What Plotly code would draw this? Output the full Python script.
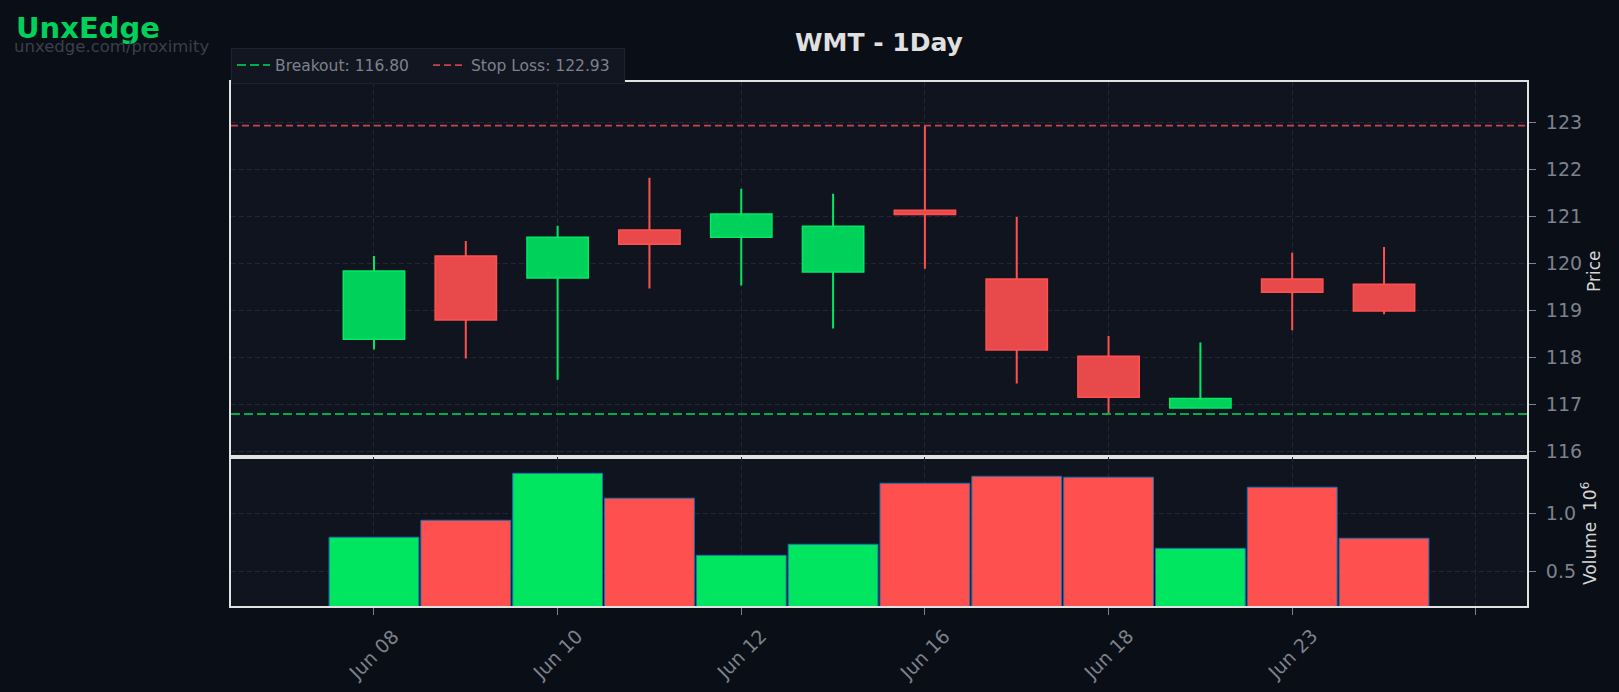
import plotly.graph_objects as go

# ---------------- data ----------------
dates = ["Jun 08", "Jun 09", "Jun 10", "Jun 11", "Jun 12", "Jun 13",
         "Jun 16", "Jun 17", "Jun 18", "Jun 20", "Jun 23", "Jun 24"]
opens = [118.39, 120.16, 119.69, 120.71, 120.56, 119.82, 121.13, 119.67, 118.03, 116.93, 119.67, 119.56]
highs = [120.16, 120.48, 120.80, 121.82, 121.59, 121.48, 122.92, 120.99, 118.46, 118.32, 120.23, 120.35]
lows = [118.17, 117.98, 117.53, 119.47, 119.53, 118.62, 119.89, 117.45, 116.80, 116.93, 118.58, 118.92]
closes = [119.84, 118.80, 120.56, 120.41, 121.05, 120.79, 121.04, 118.16, 117.16, 117.13, 119.39, 118.99]
volumes = [797000, 943000, 1348000, 1133000, 641000, 736000, 1262000, 1322000, 1314000, 701000, 1228000, 788000]

tick_positions = [0, 2, 4, 6, 8, 10, 12]
tick_labels = ["Jun 08", "Jun 10", "Jun 12", "Jun 16", "Jun 18", "Jun 23", ""]
price_ticks = [116, 117, 118, 119, 120, 121, 122, 123]
volume_ticks = [500000, 1000000]
volume_tick_labels = ["0.5", "1.0"]

breakout = 116.80
stop_loss = 122.93
symbol = "WMT"
timeframe = "1Day"

# ---------------- styling ----------------
W, H = 1619, 692
BG = "#0a0e17"
PLOT_BG = "#10141f"
GRID = "#222736"
FRAME = "#e2e2e2"
TICK_COL = "#7d828c"
GREEN_BODY = "#00d15a"
GREEN_EDGE = "#00e864"
RED_BODY = "#e84a4c"
RED_EDGE = "#ff5050"
VOL_GREEN = "#00e660"
VOL_RED = "#ff5050"
FONT = "DejaVu Sans"

x_pos = list(range(len(dates)))
x_range = [-1.557, len(dates) + 0.557]

up = [c >= o for o, c in zip(opens, closes)]
body_base = [min(o, c) for o, c in zip(opens, closes)]
body_top = [max(o, c) for o, c in zip(opens, closes)]
body_h = [t - b for t, b in zip(body_top, body_base)]

fig = go.Figure()

# wicks (split above / below body so they don't cross the body)
for is_up, col in [(True, GREEN_EDGE), (False, RED_EDGE)]:
    wx, wy = [], []
    for i in x_pos:
        if up[i] != is_up:
            continue
        wx += [i, i, None, i, i, None]
        wy += [highs[i], body_top[i], None, body_base[i], lows[i], None]
    fig.add_trace(go.Scatter(x=wx, y=wy, mode="lines", line=dict(color=col, width=2),
                             showlegend=False, hoverinfo="skip", xaxis="x", yaxis="y"))

# bodies
for is_up, fill, edge in [(True, GREEN_BODY, GREEN_EDGE), (False, RED_BODY, RED_EDGE)]:
    idx = [i for i in x_pos if up[i] == is_up]
    fig.add_trace(go.Bar(x=idx, y=[body_h[i] for i in idx], base=[body_base[i] for i in idx],
                         width=0.668, marker=dict(color=fill, line=dict(color=edge, width=1.5)),
                         showlegend=False, xaxis="x", yaxis="y"))

# level lines
fig.add_trace(go.Scatter(x=x_range, y=[breakout, breakout], mode="lines",
                         line=dict(color="#00ad4b", width=2, dash="9px,4px"),
                         name=f"Breakout: {breakout:.2f}", xaxis="x", yaxis="y"))
fig.add_trace(go.Scatter(x=x_range, y=[stop_loss, stop_loss], mode="lines",
                         line=dict(color="#cc424a", width=1.6, dash="7px,4px"),
                         name=f"Stop Loss: {stop_loss:.2f}", xaxis="x", yaxis="y"))

# volume
fig.add_trace(go.Bar(x=x_pos, y=volumes, width=0.978,
                     marker=dict(color=[VOL_GREEN if u else VOL_RED for u in up],
                                 line=dict(color="#1f6fb0", width=1)),
                     showlegend=False, xaxis="x2", yaxis="y2"))

x_dom = [231 / W, 1527 / W]
common_x = dict(range=x_range, domain=x_dom, tickmode="array", tickvals=tick_positions,
                showgrid=True, gridcolor=GRID, griddash="5px,3px", gridwidth=1, automargin=False,
                zeroline=False, showline=True, mirror=True, linecolor=FRAME, linewidth=2)
common_y = dict(side="right", tickmode="array", ticks="outside", ticklen=7, tickcolor=TICK_COL,
                tickfont=dict(size=19, color=TICK_COL), showgrid=True, gridcolor=GRID,
                griddash="5px,3px", zeroline=False, showline=True, mirror=True, linecolor=FRAME,
                linewidth=2, ticklabelstandoff=6, automargin=False)

annotations = [
    dict(text=f"<b>{symbol} - {timeframe}</b>", x=(x_dom[0] + x_dom[1]) / 2, y=1 - 42 / H,
         xref="paper", yref="paper", xanchor="center", yanchor="middle", showarrow=False,
         font=dict(size=25, color="#e0e0e0", family=FONT)),
    dict(text="<b>UnxEdge</b>", x=14 / W, y=1 - 9 / H, xref="paper", yref="paper",
         xanchor="left", yanchor="top", showarrow=False,
         font=dict(size=29, color="#00d15a", family=FONT)),
    dict(text="unxedge.com/proximity", x=12 / W, y=1 - 35 / H, xref="paper", yref="paper",
         xanchor="left", yanchor="top", showarrow=False,
         font=dict(size=16.5, color="#3b404c", family=FONT)),
    dict(text="Price", x=1594 / W, y=1 - 272 / H, xref="paper", yref="paper",
         xanchor="center", yanchor="middle", textangle=-90, showarrow=False,
         font=dict(size=17, color="#d6d6d6", family=FONT)),
    dict(text="Volume  10<sup>6</sup>", x=1589 / W, y=1 - 534 / H, xref="paper", yref="paper",
         xanchor="center", yanchor="middle", textangle=-90, showarrow=False,
         font=dict(size=17, color="#d6d6d6", family=FONT)),
]
# rotated x tick labels, centred under their ticks (matplotlib style)
for pos, lab in zip(tick_positions, tick_labels):
    if lab:
        annotations.append(dict(text=lab, x=pos, xref="x2", y=1 - 622 / H, yref="paper",
                                xanchor="center", yanchor="top", textangle=-45, showarrow=False,
                                font=dict(size=19, color=TICK_COL, family=FONT)))

fig.update_layout(
    width=W, height=H,
    margin=dict(l=0, r=0, t=0, b=0, autoexpand=False),
    paper_bgcolor=BG, plot_bgcolor=PLOT_BG,
    barmode="overlay",
    font=dict(family=FONT, color=TICK_COL),
    xaxis=dict(**common_x, anchor="y", matches="x2", showticklabels=False, ticks=""),
    xaxis2=dict(**common_x, anchor="y2", showticklabels=False, ticks="outside", ticklen=7,
                tickcolor=TICK_COL),
    yaxis=dict(**common_y, domain=[1 - 456.7 / H, 1 - 82 / H], range=[115.894, 123.857],
               anchor="x", tickvals=price_ticks),
    yaxis2=dict(**common_y, domain=[1 - 606 / H, 1 - 456.7 / H], range=[204000, 1491000],
                anchor="x2", tickvals=volume_ticks, ticktext=volume_tick_labels),
    legend=dict(orientation="h", x=231 / W, y=1 - 47.5 / H, xanchor="left", yanchor="top",
                bgcolor="#111621", bordercolor="#1d2230", borderwidth=1,
                font=dict(size=15.5, color=TICK_COL, family=FONT), itemwidth=33,
                entrywidth=148),
    showlegend=True,
    annotations=annotations,
)

fig.write_html("out.html")
